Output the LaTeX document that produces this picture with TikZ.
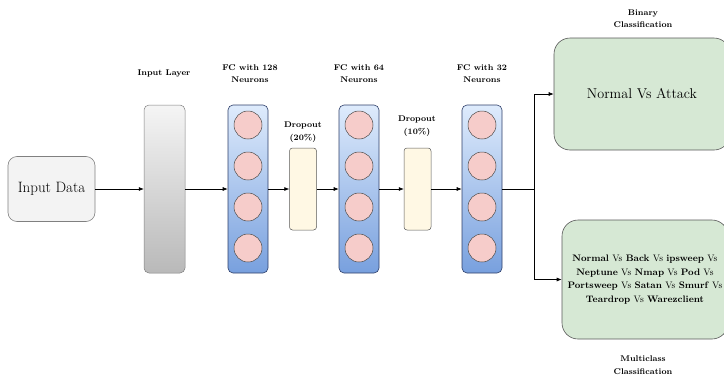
\documentclass[tikz,border=0pt]{standalone}
\usetikzlibrary{arrows.meta, math}
\definecolor{mygray}{RGB}{243,243,243}
\definecolor{myblue}{RGB}{120,160,222}
\definecolor{mylightblue}{RGB}{222,235,252}
\definecolor{mydarkblue}{RGB}{45,62,105}
\definecolor{mypink}{RGB}{246,204,202}
\definecolor{mycream}{RGB}{255,248,228}
\definecolor{mygreen}{RGB}{214,232,212}

\tikzset{
  arr/.style={-{Latex[length=5pt,width=4pt]}, line width=0.6pt},
  lbl/.style={font=\fontsize{8.3}{12.5}\selectfont\bfseries, align=center},
  fclayer/.style={draw=mydarkblue, line width=0.6pt, rounded corners=5pt, top color=mylightblue, bottom color=myblue, minimum width=40, minimum height=168},
  droplayer/.style={draw=gray!70!black, line width=0.5pt, rounded corners=3pt, fill=mycream, minimum width=27, minimum height=82},
  outbox/.style={draw=gray!70!black, line width=0.6pt, rounded corners=16pt, fill=mygreen, align=center}
}

\begin{document}
\begin{tikzpicture}[x=1pt, y=-1pt]
\tikzmath{
\R=14;
}
\clip (0,0) rectangle (724,378);

\node[draw=gray, line width=0.6pt, rounded corners=9pt, fill=mygray, minimum width=87, minimum height=65, font=\fontsize{15}{17}\selectfont] (data) at (51.5,189) {Input Data};
\node[draw=gray, line width=0.5pt, rounded corners=5pt, top color=gray!8, bottom color=gray!55, minimum width=41, minimum height=168] (inlayer) at (164.5,189) {};
\node[fclayer] (fc1) at (248,189) {};
\node[droplayer] (drop1) at (303,189) {};
\node[fclayer] (fc2) at (359,189) {};
\node[droplayer] (drop2) at (417.5,189) {};
\node[fclayer] (fc3) at (482,189) {};

\foreach \x in {248,359,482}{
  \foreach \y in {125,166,207,248}{
    \draw[fill=mypink, draw=gray!60!black, line width=0.5pt] (\x,\y) circle (\R);
  }
}

\node[outbox, minimum width=176, minimum height=112, font=\fontsize{14.2}{16}\selectfont] (binary) at (642,94) {Normal Vs Attack};
\node[outbox, minimum width=166, minimum height=119, font=\fontsize{9.4}{13.5}\selectfont] (multi) at (645,279.5) {\textbf{Normal} Vs \textbf{Back} Vs \textbf{ipsweep} Vs\\ \textbf{Neptune} Vs \textbf{Nmap} Vs \textbf{Pod} Vs\\ \textbf{Portsweep} Vs \textbf{Satan} Vs \textbf{Smurf} Vs\\ \textbf{Teardrop} Vs \textbf{Warezclient}};

\node[lbl] (inlbl) at (164,73) {Input Layer};
\node[lbl] (fc1lbl) at (250,73.5) {FC with 128\\Neurons};
\node[lbl] (fc2lbl) at (359,73.5) {FC with 64\\Neurons};
\node[lbl] (fc3lbl) at (482,73.5) {FC with 32\\Neurons};
\node[lbl] (drop1lbl) at (303,132) {Dropout\\(20\%)};
\node[lbl] (drop2lbl) at (417,126) {Dropout\\(10\%)};
\node[lbl] (binlbl) at (643,18.5) {Binary\\Classification};
\node[lbl] (multilbl) at (643,365) {Multiclass\\Classification};

\draw[arr] (data) -- (inlayer);
\draw[arr] (inlayer) -- (fc1);
\draw[arr] (fc1) -- (drop1);
\draw[arr] (drop1) -- (fc2);
\draw[arr] (fc2) -- (drop2);
\draw[arr] (drop2) -- (fc3);
\coordinate (split) at (534,189);
\draw[line width=0.6pt] (fc3) -- (split);
\draw[arr] (split) |- (binary.west);
\draw[arr] (split) |- (multi.west);
\end{tikzpicture}
\end{document}
